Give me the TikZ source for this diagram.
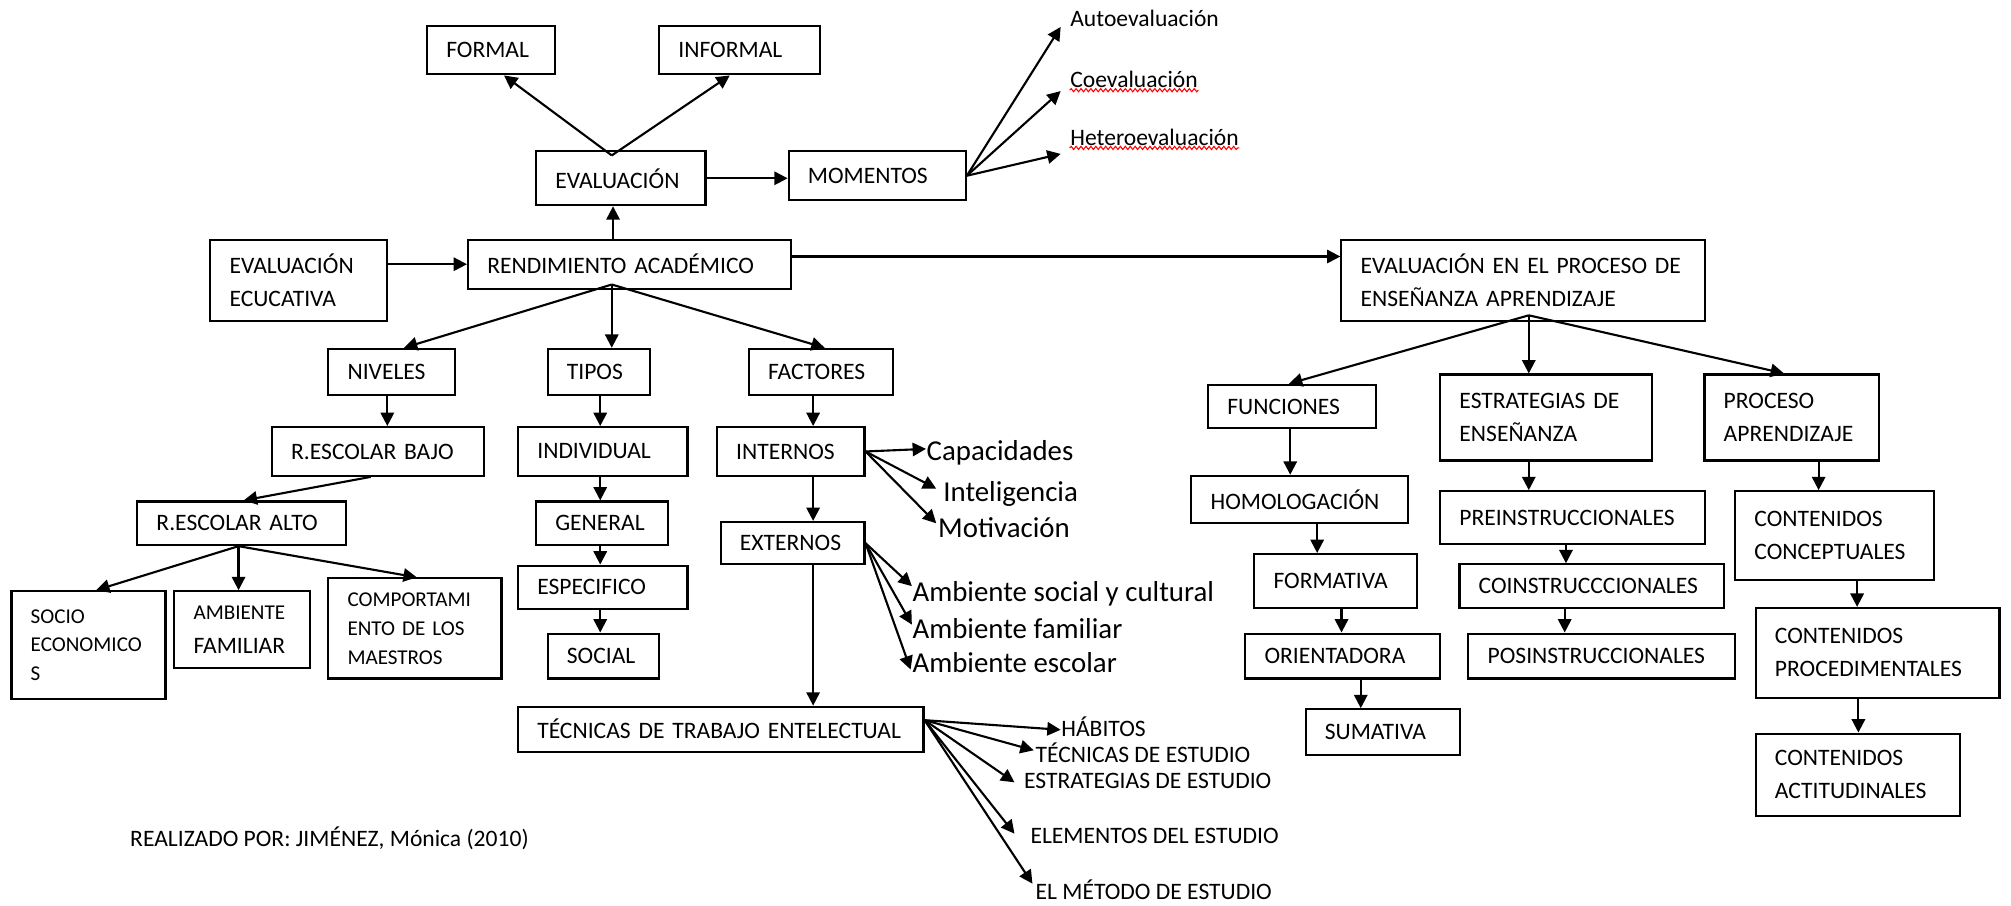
\documentclass[tikz,border=0pt]{standalone}
\usepackage{fontspec}
\setmainfont{Carlito}
\usetikzlibrary{arrows.meta,calc,decorations.pathmorphing}

% one layout unit, in pt
\def\pux{0.364906}
\newcommand\boxf{\fontsize{6.7}{9.4}\selectfont}
\newcommand\smallf{\fontsize{6}{8.2}\selectfont}
\newcommand\bigf{\fontsize{8.2}{10}\selectfont}

% \mkbox[options]{name}{x1}{y1}{x2}{y2}{text}
\newcommand\mkbox[7][]{%
  \pgfmathsetmacro\bxw{(#5-#3)*\pux}%
  \pgfmathsetmacro\bxh{(#6-#4)*\pux}%
  \pgfmathsetmacro\bxt{(#5-#3-30)*\pux}%
  \node[box,minimum width=\bxw pt,minimum height=\bxh pt,text width=\bxt pt,#1]
    (#2) at ({(#3+#5)/2},{(#4+#6)/2}) {#7};%
}

\tikzset{
  box/.style={draw, line width=0.6pt, rectangle, inner xsep=5.47pt, inner ysep=0pt,
              align=left, font=\boxf},
  arr/.style={-{Triangle[length=3.8pt,width=3.8pt]}, line width=0.6pt},
  lbl/.style={inner sep=0pt, anchor=west, font=\boxf},
  biglbl/.style={inner sep=0pt, anchor=west, font=\bigf},
  spell/.style={red, line width=0.3pt, decorate,
                decoration={snake, amplitude=0.45pt, segment length=1.4pt}}
}

\begin{document}
\begin{tikzpicture}[x=0.012825cm,y=-0.012825cm]
\useasboundingbox (0,0) rectangle (1568,706);

% ---- boxes ----
\mkbox{formal}{333}{20}{433}{58}{FORMAL}
\mkbox{informal}{514}{20}{639}{58}{INFORMAL}
\mkbox{eva}{418}{118}{550}{160}{EVALUACIÓN}
\mkbox{mom}{615}{118}{753}{156}{MOMENTOS}
\mkbox{evedu}{164}{187}{302}{250}{EVALUACIÓN\\ECUCATIVA}
\mkbox{rend}{365}{187}{617}{225}{RENDIMIENTO~ACADÉMICO}
\mkbox{evproc}{1046}{187}{1329}{250}{EVALUACIÓN~EN~EL~PROCESO~DE\\ENSEÑANZA~APRENDIZAJE}

\mkbox{niv}{256}{272}{355}{308}{NIVELES}
\mkbox{tip}{427}{272}{507}{308}{TIPOS}
\mkbox{fac}{584}{272}{696}{308}{FACTORES}

\mkbox{rbajo}{212}{333}{377}{371}{R.ESCOLAR~BAJO}
\mkbox{ralto}{107}{391}{270}{425}{R.ESCOLAR~ALTO}
\mkbox[font=\smallf]{socio}{9}{461}{129}{545}{SOCIO\\ECONOMICO\\S}
\mkbox{amb}{136}{461}{242}{521}{{\smallf AMBIENTE}\\FAMILIAR}
\mkbox[font=\smallf]{comp}{256}{451}{391}{529}{COMPORTAMI\\ENTO~DE~LOS\\MAESTROS}

\mkbox{indiv}{404}{333}{536}{371}{INDIVIDUAL}
\mkbox{gen}{418}{391}{521}{425}{GENERAL}
\mkbox{espe}{404}{441}{536}{475}{ESPECIFICO}
\mkbox{soc}{427}{494}{514}{529}{SOCIAL}

\mkbox{inte}{559}{333}{674}{371}{INTERNOS}
\mkbox{exte}{562}{407}{674}{440}{EXTERNOS}
\mkbox{tec}{404}{551}{720}{586}{TÉCNICAS~DE~TRABAJO~ENTELECTUAL}

\mkbox{func}{942}{300}{1073}{334}{FUNCIONES}
\mkbox{homo}{929}{371}{1098}{408}{HOMOLOGACIÓN}
\mkbox{form}{978}{432}{1105}{474}{FORMATIVA}
\mkbox{orie}{971}{494}{1123}{529}{ORIENTADORA}
\mkbox{suma}{1018}{553}{1138}{589}{SUMATIVA}

\mkbox{estr}{1123}{292}{1288}{359}{ESTRATEGIAS~DE\\ENSEÑANZA}
\mkbox{pre}{1123}{383}{1329}{424}{PREINSTRUCCIONALES}
\mkbox{coin}{1138}{440}{1344}{474}{COINSTRUCCCIONALES}
\mkbox{pos}{1145}{494}{1353}{529}{POSINSTRUCCIONALES}

\mkbox{proc}{1329}{292}{1465}{359}{PROCESO\\APRENDIZAJE}
\mkbox{ccon}{1353}{383}{1508}{452}{CONTENIDOS\\CONCEPTUALES}
\mkbox{cpro}{1369}{474}{1559}{544}{CONTENIDOS\\PROCEDIMENTALES}
\mkbox{cact}{1369}{572}{1528}{636}{CONTENIDOS\\ACTITUDINALES}

% ---- free labels ----
\node[lbl] (auto) at (834,14) {Autoevaluación};
\node[lbl] (coe) at (834,62) {Coevaluación};
\node[lbl] (het) at (834,107) {Heteroevaluación};
\draw[spell] ($(coe.base west)+(0,2)$) -- ($(coe.base east)+(0,2)$);
\draw[spell] ($(het.base west)+(0,2)$) -- ($(het.base east)+(0,2)$);

\node[biglbl] (cap) at (722,353) {Capacidades};
\node[biglbl] (intel) at (735,385) {Inteligencia};
\node[biglbl] (motiv) at (731,411) {Motivación};

\node[biglbl] (asc) at (711,463) {Ambiente social y cultural};
\node[biglbl] (afam) at (711,490) {Ambiente familiar};
\node[biglbl] (aesc) at (711,517) {Ambiente escolar};

\node[lbl] (hab) at (827,567) {HÁBITOS};
\node[lbl] (tde) at (807,587) {TÉCNICAS DE ESTUDIO};
\node[lbl] (estu) at (798,609) {ESTRATEGIAS DE ESTUDIO};
\node[lbl] (elem) at (803,652) {ELEMENTOS DEL ESTUDIO};
\node[lbl] (meto) at (807,694) {EL MÉTODO DE ESTUDIO};

\node[lbl] (autor) at (101,654) {REALIZADO POR: JIMÉNEZ, Mónica (2010)};

% ---- connectors: upper part ----
\draw[arr] (evedu.east |- rend.west) -- (rend.west);
\draw[arr] (rend.north -| 478,0) -- (eva.south -| 478,0);
\draw[arr] (eva.east) -- (eva.east -| mom.west);
\coordinate (eapex) at ($(eva.north -| 477,0)+(0,4)$);
\draw[arr] (eapex) -- (formal.south -| 393,0);
\draw[arr] (eapex) -- (informal.south -| 569,0);

\draw[arr] (mom.east) -- ($(auto.west)+(-7,7)$);
\draw[arr] (mom.east) -- ($(coe.west)+(-7,9)$);
\draw[arr] (mom.east) -- ($(het.west)+(-7,13)$);

\coordinate (rq) at ($(rend.east)+(0,-6)$);
\draw[arr] (rq) -- (rq -| evproc.west);

% ---- rendimiento branches ----
\coordinate (rapex) at ($(rend.south -| 477,0)+(0,-4)$);
\draw[arr] (rapex) -- (niv.north -| 315,0);
\draw[arr] (rapex) -- (tip.north -| 477,0);
\draw[arr] (rapex) -- (fac.north -| 643,0);

\draw[arr] (niv.south -| 302,0) -- (rbajo.north -| 302,0);
\draw[arr] (rbajo.south -| 289,0) -- (ralto.north -| 190,0);
\coordinate (aapex) at (ralto.south -| 186,0);
\draw[arr] (aapex) -- (socio.north -| 75,0);
\draw[arr] (aapex) -- (amb.north -| 186,0);
\draw[arr] (aapex) -- (comp.north -| 325,0);

\foreach \a/\b in {tip/indiv, indiv/gen, gen/espe, espe/soc}
  \draw[arr] (\a.south -| 468,0) -- (\b.north -| 468,0);

\foreach \a/\b in {fac/inte, inte/exte, exte/tec}
  \draw[arr] (\a.south -| 634,0) -- (\b.north -| 634,0);

\draw[arr] (inte.east) -- ($(cap.west)+(0,-3)$);
\draw[arr] (inte.east) -- ($(intel.west)+(-5,-4)$);
\draw[arr] (inte.east) -- ($(motiv.west)+(-1,-3)$);

\draw[arr] (exte.east) -- ($(asc.west)+(0,-6)$);
\draw[arr] (exte.east) -- ($(afam.west)+(0,-3)$);
\draw[arr] (exte.east) -- ($(aesc.west)+(-1,5)$);

\coordinate (tapex) at ($(tec.east)+(0,-7)$);
\draw[arr] (tapex) -- ($(hab.west)+(0,2)$);
\draw[arr] (tapex) -- ($(tde.west)+(-1,-2)$);
\draw[arr] (tapex) -- ($(estu.west)+(-7,1)$);
\draw[arr] (tapex) -- ($(elem.west)+(-12,-2)$);
\draw[arr] (tapex) -- ($(meto.west)+(-2,-5)$);

% ---- teaching-learning process branches ----
\coordinate (papex) at ($(evproc.south -| 1192,0)+(0,-5)$);
\draw[arr] (papex) -- (func.north -| 1005,0);
\draw[arr] (papex) -- (estr.north -| 1192,0);
\draw[arr] (papex) -- (proc.north -| 1391,0);

\draw[arr] (func.south -| 1006,0) -- (homo.north -| 1006,0);
\draw[arr] (homo.south -| 1027,0) -- (form.north -| 1027,0);
\draw[arr] (form.south -| 1046,0) -- (orie.north -| 1046,0);
\draw[arr] (orie.south -| 1061,0) -- (suma.north -| 1061,0);

\draw[arr] (estr.south -| 1192,0) -- (pre.north -| 1192,0);
\draw[arr] (pre.south -| 1221,0) -- (coin.north -| 1221,0);
\draw[arr] (coin.south -| 1220,0) -- (pos.north -| 1220,0);

\draw[arr] (proc.south -| 1418,0) -- (ccon.north -| 1418,0);
\draw[arr] (ccon.south -| 1448,0) -- (cpro.north -| 1448,0);
\draw[arr] (cpro.south -| 1449,0) -- (cact.north -| 1449,0);
\end{tikzpicture}
\end{document}
